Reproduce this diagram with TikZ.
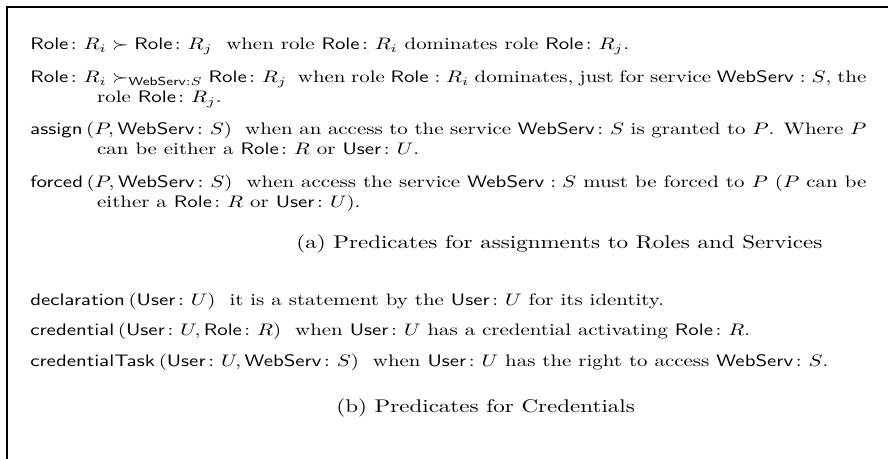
\documentclass[tikz,border=0pt]{standalone}
\usepackage{amsmath,amssymb,graphicx}
\usetikzlibrary{positioning}

\newcommand{\Role}{\mathsf{Role}}
\newcommand{\User}{\mathsf{User}}
\newcommand{\WebServ}{\mathsf{WebServ}}
\newcommand{\predname}[1]{\mathsf{#1}}
\newcommand{\wide}{1.254}
% hanging paragraph: label, then the description
\newcommand{\predline}[2]{\scalebox{\wide}[1]{\parbox[t]{400pt}{\hangindent=32pt\hangafter=1\noindent #1\ \ #2\par}}}
\newcommand{\predcapt}[1]{\scalebox{1.38}[1.1]{#1}}

\tikzset{
  pred/.style={anchor=base west,inner sep=0pt},
  capt/.style={anchor=base west,inner sep=0pt}
}

\begin{document}
\begin{tikzpicture}[x=0.6pt,y=-0.6pt]
\useasboundingbox (0,0) rectangle (888,459);
\coordinate (tr) at (888,7);
\coordinate (bl) at (7,459);
\draw [line width=0.8pt] (bl) |- (tr);

% (a) roles and services
\node[pred] (a1) at (30,50) {\predline{$\Role\colon R_i \succ \Role\colon R_j$}{when role $\Role\colon R_i$ dominates role $\Role\colon R_j$.}};
\node[pred] (a2) at (30,83) {\predline{$\Role\colon R_i \succ_{\WebServ:S} \Role\colon R_j$}{when role $\Role : R_i$ dominates, just for service $\WebServ : S$, the \linebreak role $\Role\colon R_j$.}};
\node[pred] (a3) at (30,135) {\predline{$\predname{assign}\,(P, \WebServ\colon S)$}{when an access to the service $\WebServ\colon S$ is granted to $P$. Where $P$ \linebreak can be either a $\Role\colon R$ or $\User\colon U$.}};
\node[pred] (a4) at (30,188) {\predline{$\predname{forced}\,(P, \WebServ\colon S)$}{when access the service $\WebServ : S$ must be forced to $P$ ($P$ can be \linebreak either a $\Role\colon R$ or $\User\colon U$).}};
\node[capt] (capa) at (296,249) {\predcapt{(a) Predicates for assignments to Roles and Services}};

% (b) credentials
\node[pred] (b1) at (30,305) {\predline{$\predname{declaration}\,(\User\colon U)$}{it is a statement by the $\User\colon U$ for its identity.}};
\node[pred] (b2) at (30,335) {\predline{$\predname{credential}\,(\User\colon U, \Role\colon R)$}{when $\User\colon U$ has a credential activating $\Role\colon R$.}};
\node[pred] (b3) at (30,366) {\predline{$\predname{credentialTask}\,(\User\colon U, \WebServ\colon S)$}{when $\User\colon U$ has the right to access $\WebServ\colon S$.}};
\node[capt] (capb) at (336,412) {\predcapt{(b) Predicates for Credentials}};
\end{tikzpicture}
\end{document}
